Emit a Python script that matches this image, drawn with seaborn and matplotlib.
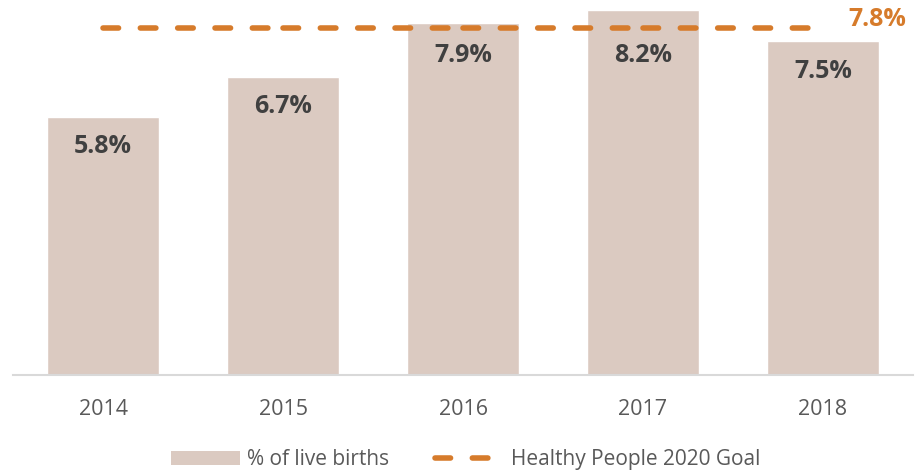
import numpy as np
import pandas as pd
import matplotlib
matplotlib.use("Agg")
import matplotlib.pyplot as plt
from matplotlib.patches import Patch
from matplotlib.lines import Line2D
import seaborn as sns

years = ["2014", "2015", "2016", "2017", "2018"]
pct_live_births = [5.8, 6.7, 7.9, 8.2, 7.5]
goal_value = 7.8

bar_color = "#DBCAC1"
goal_color = "#D67B2B"
label_color = "#404040"
tick_color = "#595959"

sns.set_theme(style="white")
plt.rcParams["font.family"] = ["Open Sans", "DejaVu Sans"]

df = pd.DataFrame({"year": years, "pct": pct_live_births})

fig = plt.figure(figsize=(9.16, 4.72), dpi=100)
ax = fig.add_axes([13 / 916, 97 / 472, 900 / 916, 375 / 472])

sns.barplot(data=df, x="year", y="pct", color=bar_color, saturation=1,
            width=0.62, ax=ax)

# goal line drawn one segment per pair of neighbouring years
pos = np.arange(len(years))
seg_x, seg_y, seg_id = [], [], []
for i in range(len(years) - 1):
    seg_x += [pos[i], pos[i + 1]]
    seg_y += [goal_value, goal_value]
    seg_id += [i, i]
goal_df = pd.DataFrame({"x": seg_x, "y": seg_y, "seg": seg_id})
n_before = len(ax.lines)
sns.lineplot(data=goal_df, x="x", y="y", units="seg", estimator=None, ax=ax,
             color=goal_color, linewidth=4.0, legend=False)
goal_dashes = (2.8, 3.92)
for ln in ax.lines[n_before:]:
    ln.set_dashes(goal_dashes)
    ln.set_dash_capstyle("round")

# value labels inside the bars, kept clear of the goal line
for x, v in zip(pos, pct_live_births):
    y = min(v - 0.68, 7.18)
    ax.text(x, y, f"{v:.1f}%", ha="center", va="center", fontsize=18,
            fontweight="bold", color=label_color)

ax.text(4.46, 7.98, f"{goal_value:.1f}%", ha="right", va="center",
        fontsize=18, fontweight="bold", color=goal_color)

ax.set_xlim(-0.5, 4.5)
ax.set_ylim(0, 8.42)
ax.set_xlabel("")
ax.set_ylabel("")
ax.set_yticks([])
ax.tick_params(axis="x", length=0, pad=17.5, labelsize=15.5, labelcolor=tick_color)
for side in ["left", "right", "top"]:
    ax.spines[side].set_visible(False)
ax.spines["bottom"].set_color("#D9D9D9")
ax.spines["bottom"].set_linewidth(1.5)

handles = [
    Patch(facecolor=bar_color, edgecolor="none"),
    Line2D([], [], color=goal_color, linewidth=4.0, dashes=goal_dashes,
           dash_capstyle="round"),
]
labels = ["% of live births", "Healthy People 2020 Goal"]
ax.legend(handles, labels, loc="center", bbox_to_anchor=(0.503, -0.226),
          ncol=2, frameon=False, fontsize=15, handlelength=3.3,
          handleheight=0.67, handletextpad=0.34, columnspacing=2.2,
          labelcolor=tick_color)

fig.savefig("out.png", dpi=100)
